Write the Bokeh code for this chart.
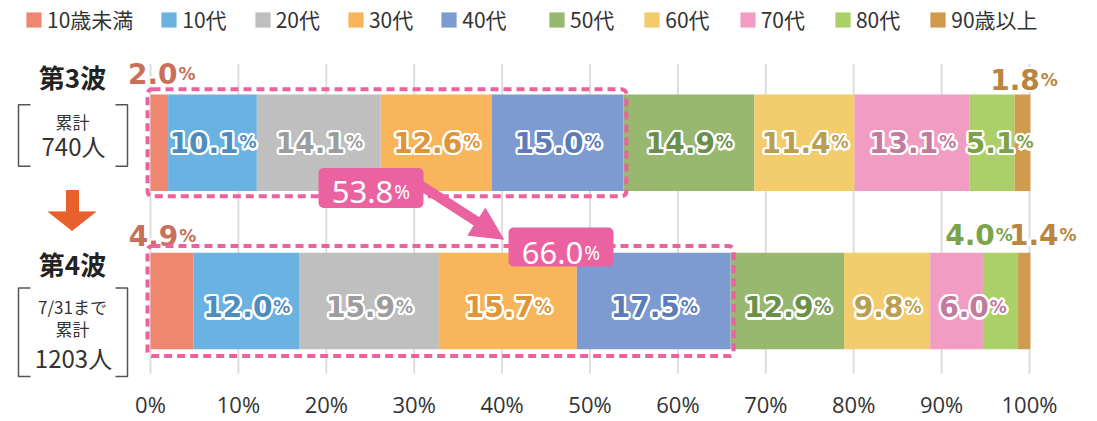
import numpy as np
from bokeh.plotting import figure
from bokeh.models import (Range1d, ColumnDataSource, Legend, LegendItem,
                          BoxAnnotation, Arrow, NormalHead)
from bokeh.core.properties import value
from bokeh.embed import file_html
from bokeh.resources import INLINE

# ---------------- data ----------------
age_groups = ["10歳未満", "10代", "20代", "30代", "40代",
              "50代", "60代", "70代", "80代", "90歳以上"]
wave3_pct = [2.0, 10.1, 14.1, 12.6, 15.0, 14.9, 11.4, 13.1, 5.1, 1.8]
wave4_pct = [4.9, 12.0, 15.9, 15.7, 17.5, 12.9, 9.8, 6.0, 4.0, 1.4]
wave_names = ["第3波", "第4波"]
wave_notes = [["累計", "740人"], ["7/31まで", "累計", "1203人"]]
x_ticks = [0, 10, 20, 30, 40, 50, 60, 70, 80, 90, 100]
highlight_groups = 5  # 10歳未満 .. 40代

# ---------------- style ----------------
bar_colors = ["#EF8770", "#6AB2E2", "#BEBFBE", "#F8B55B", "#7D9BD1",
              "#97B86E", "#F2CC6D", "#F19DC3", "#ABD067", "#D19B4E"]
label_colors = ["#C9705A", "#4E8DBE", "#9C9D9C", "#DE9438", "#5A7CB8",
                "#6B904A", "#B99F52", "#C47A9D", "#7CA34A", "#BA8540"]
PINK = "#EA62A0"
ORANGE = "#E8612C"
TXT = "#333333"
NUM_FONT = value("DejaVu Sans")
CALL_FONT = value("Noto Sans")
JP_FONT = value("Noto Sans CJK JP")

# ---------------- layout helpers (picture px -> data) ----------------
W, H = 1097, 421
FB = 389                 # frame bottom (px)
PX0, PXS = 150.0, 8.79   # x of 0 %, px per %
BASE_FIX = 6             # renderer places alphabetic baseline ~6px low


def X(px):
    return (px - PX0) / PXS


def Y(py):
    return FB - py


p = figure(width=W, height=H, output_backend="svg", toolbar_location=None,
           x_range=Range1d(X(0), X(W)), y_range=Range1d(0, FB),
           min_border_left=0, min_border_right=0, min_border_top=0,
           min_border_bottom=H - FB, y_axis_location=None)
p.outline_line_color = None
p.grid.visible = False
p.background_fill_color = "white"

# x axis
p.xaxis.ticker = x_ticks
p.xaxis.major_label_overrides = {t: f"{t}%" for t in x_ticks}
p.xaxis.axis_line_color = None
p.xaxis.major_tick_line_color = None
p.xaxis.minor_tick_line_color = None
p.xaxis.major_label_standoff = 3
p.xaxis.major_label_text_font = "Open Sans"
p.xaxis.major_label_text_font_size = "22px"
p.xaxis.major_label_text_color = TXT

# gridlines (short)
n = len(x_ticks)
p.segment(x0=x_ticks, x1=x_ticks, y0=[Y(383)] * n, y1=[Y(65)] * n,
          line_color="#DEDEDE", line_width=2)

# bars
bar_cy = [Y(146), Y(308.5)]
BAR_H = 99
waves = [wave3_pct, wave4_pct]
cums = [np.concatenate([[0.0], np.cumsum(w)]) for w in waves]
renderers = []
for i, g in enumerate(age_groups):
    src = ColumnDataSource(dict(y=bar_cy,
                                left=[c[i] for c in cums],
                                right=[c[i + 1] for c in cums]))
    r = p.hbar(y="y", left="left", right="right", height=BAR_H, source=src,
               fill_color=bar_colors[i], line_color=None)
    renderers.append(r)

# value labels
NUM_SIZE, PCT_SIZE = 28, 17
DIGIT_W, DOT_W, PCT_W = 0.696 * NUM_SIZE, 0.38 * NUM_SIZE, 1.0 * PCT_SIZE


def split_offset(s, dw=DIGIT_W, dotw=DOT_W, pw=PCT_W):
    wn = sum(dotw if ch == "." else dw for ch in s)
    return (wn - pw) / 2


inside_dy = [-4.5, 1.5]           # cap centre relative to bar centre
inside_nudge = {(0, 8): 7, (1, 7): 16}
outside_nudge = {(0, 0): (2, -15), (1, 0): (-10, -11), (0, 9): (1, -9),
                 (1, 8): (-22, -12), (1, 9): (18, -12)}
CAP = 0.729 * NUM_SIZE
lab = dict(x=[], y=[], num=[], pct=[], color=[], xo=[], xo2=[], yo=[])
for w, vals in enumerate(waves):
    for i, v in enumerate(vals):
        s = f"{v:.1f}"
        d = split_offset(s)
        x = (cums[w][i] + cums[w][i + 1]) / 2
        if v >= 5:
            y, yo = bar_cy[w], inside_dy[w] + CAP / 2 - BASE_FIX
            nud = inside_nudge.get((w, i), 0)
        else:
            dx, dy = outside_nudge.get((w, i), (0, -12))
            y, yo, nud = bar_cy[w] + BAR_H / 2, dy - BASE_FIX, dx
        lab["x"].append(x)
        lab["y"].append(y)
        lab["num"].append(s)
        lab["pct"].append("%")
        lab["color"].append(label_colors[i])
        lab["xo"].append(d + nud)
        lab["xo2"].append(d + nud + 1)
        lab["yo"].append(yo)

# white halo: offset copies
halo_dirs = [(np.cos(a) * 2.3, np.sin(a) * 2.3) for a in np.linspace(0, 2 * np.pi, 12, endpoint=False)]
for k, (hx, hy) in enumerate(halo_dirs):
    lab[f"hxo{k}"] = [v + hx for v in lab["xo"]]
    lab[f"hxp{k}"] = [v + hx for v in lab["xo2"]]
    lab[f"hyo{k}"] = [v + hy for v in lab["yo"]]
lsrc = ColumnDataSource(lab)
common = dict(x="x", y="y", source=lsrc, text_baseline="alphabetic",
              text_font=NUM_FONT, text_font_style="bold")
for k in range(len(halo_dirs)):
    p.text(text="num", x_offset=f"hxo{k}", y_offset=f"hyo{k}", text_align="right",
           text_font_size=f"{NUM_SIZE}px", text_color="white", **common)
    p.text(text="pct", x_offset=f"hxp{k}", y_offset=f"hyo{k}", text_align="left",
           text_font_size=f"{PCT_SIZE}px", text_color="white", **common)
p.text(text="num", x_offset="xo", y_offset="yo", text_align="right",
       text_font_size=f"{NUM_SIZE}px", text_color="color", **common)
p.text(text="pct", x_offset="xo2", y_offset="yo", text_align="left",
       text_font_size=f"{PCT_SIZE}px", text_color="color", **common)

# dashed highlight boxes
bar_top_px = [97, 258]
bar_bot_px = [195, 359]
for w in range(2):
    right = cums[w][highlight_groups]
    p.add_layout(BoxAnnotation(left=X(147), right=right + 3 / PXS,
                               top=Y(bar_top_px[w] - 6), bottom=Y(bar_bot_px[w] + 6),
                               fill_alpha=0, fill_color=None, line_color=PINK,
                               line_alpha=1, line_width=4, line_dash="8 5",
                               border_radius=5))

# callout boxes
call_boxes = [(318, 423, 172, 213), (508, 613, 233, 273)]
for (l, r_, t, b) in call_boxes:
    p.add_layout(BoxAnnotation(left=X(l), right=X(r_), top=Y(t), bottom=Y(b),
                               fill_color=PINK, fill_alpha=1, line_color=None,
                               border_radius=5))
share = [f"{sum(w[:highlight_groups]):.1f}" for w in waves]
cd = [split_offset(s, 17.7, 8.5, 17.0) for s in share]
csrc = ColumnDataSource(dict(
    x=[X((l + r_) / 2) for (l, r_, t, b) in call_boxes],
    y=[Y((t + b) / 2) for (l, r_, t, b) in call_boxes],
    num=share, pct=["%", "%"], xo=cd, xo2=[c + 1 for c in cd], yo=[3.5, 6]))
p.text(x="x", y="y", text="num", source=csrc, text_color="white",
       x_offset="xo", y_offset="yo", text_align="right", text_baseline="alphabetic",
       text_font=CALL_FONT, text_font_size="31px", level="overlay")
p.text(x="x", y="y", text="pct", source=csrc, text_color="white",
       x_offset="xo2", y_offset="yo", text_align="left", text_baseline="alphabetic",
       text_font=CALL_FONT, text_font_size="19px", level="overlay")

# pink arrow
p.add_layout(Arrow(end=None, x_start=X(419), y_start=Y(189), x_end=X(484), y_end=Y(232),
                   line_color=PINK, line_width=10))
p.add_layout(Arrow(end=NormalHead(size=32, fill_color=PINK, line_color=PINK, line_width=1),
                   x_start=X(419), y_start=Y(189), x_end=X(503), y_end=Y(245),
                   line_alpha=0))

# orange down arrow
arr = [(66, 195), (78, 195), (78, 217), (95, 217), (71.5, 236), (48, 217), (66, 217)]
p.patch(x=[X(a) for a, b in arr], y=[Y(b) for a, b in arr], color=ORANGE)

# brackets
br = [(107, 170), (295, 386)]
xs, ys = [], []
for t, b in br:
    xs += [[X(30), X(18), X(18), X(30)], [X(115), X(127), X(127), X(115)]]
    ys += [[Y(t), Y(t), Y(b), Y(b)]] * 2
p.multi_line(xs=xs, ys=ys, line_color="#555555", line_width=1.5)

# wave titles
p.text(x=[X(72)] * 2, y=[Y(78.5), Y(270)], text=wave_names, text_align="center",
       text_baseline="middle", text_font=JP_FONT, text_font_style="bold",
       text_font_size="26px", text_color="#222222")

# notes
note_y = [[124.5, 149], [314.5, 336.5, 366]]
small_x, small_y, small_t, big_x, big_y, big_t = [], [], [], [], [], []
for notes, ys_ in zip(wave_notes, note_y):
    for k, (t, yy) in enumerate(zip(notes, ys_)):
        if k == len(notes) - 1:
            big_x.append(X(73)); big_y.append(Y(yy)); big_t.append(t)
        else:
            small_x.append(X(72)); small_y.append(Y(yy)); small_t.append(t)
p.text(x=small_x, y=small_y, text=small_t, text_align="center", text_baseline="middle",
       text_font=JP_FONT, text_font_size="17px", text_color=TXT)
p.text(x=big_x, y=big_y, text=big_t, text_align="center", text_baseline="middle",
       text_font=JP_FONT, text_font_size="24px", text_color=TXT)

# legend (two halves to follow the reference spacing)
leg_kw = dict(orientation="horizontal", glyph_width=19, glyph_height=19,
              label_standoff=4, padding=0, margin=0,
              border_line_color=None, background_fill_alpha=0,
              label_text_font="Noto Sans CJK JP", label_text_font_size="21px",
              label_text_color=TXT)
items = [LegendItem(label=g, renderers=[r]) for g, r in zip(age_groups, renderers)]
p.add_layout(Legend(items=items[:5], location=(24, 345), spacing=26, **leg_kw))
p.add_layout(Legend(items=items[5:], location=(547, 345), spacing=28, **leg_kw))

open("out.html", "w").write(file_html(p, INLINE))
